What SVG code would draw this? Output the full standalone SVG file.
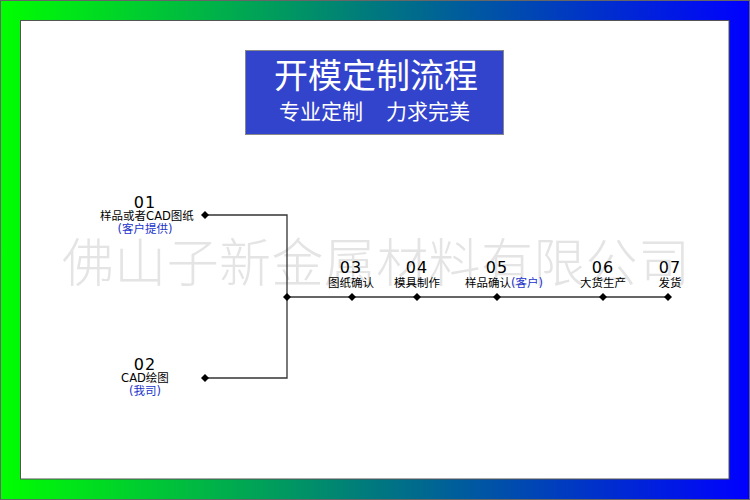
<svg xmlns="http://www.w3.org/2000/svg" width="750" height="500" viewBox="0 0 750 500">
<defs>
<linearGradient id="bg" x1="0" y1="0" x2="1" y2="0">
<stop offset="0" stop-color="#00ff00"/>
<stop offset="0.5" stop-color="#00787f"/>
<stop offset="1" stop-color="#0000ff"/>
</linearGradient>
<marker id="dia" viewBox="-5 -5 10 10" markerWidth="10" markerHeight="10" refX="0" refY="0" markerUnits="userSpaceOnUse">
<path d="M0,-4 L4,0 L0,4 L-4,0 Z" fill="#000"/>
</marker>
</defs>
<style>
.num{font-family:"DejaVu Sans","Noto Sans CJK SC",sans-serif;font-size:16px;fill:#000;text-anchor:middle;letter-spacing:1px}
.lbl{font-family:"DejaVu Sans","Noto Sans CJK SC",sans-serif;font-size:11.5px;fill:#000;text-anchor:middle}
.blue{fill:#2233cc}
.ln{stroke:#333;stroke-width:1.3;fill:none}
.ttl{font-family:"Noto Sans CJK SC",sans-serif;fill:#fff}
</style>
<rect x="0.5" y="0.5" width="749" height="499" fill="url(#bg)" stroke="#666" stroke-width="1"/>
<rect x="20.5" y="20.5" width="708.5" height="458.5" fill="#fff" stroke="#555" stroke-width="1"/>
<text x="376" y="282" font-family="'Noto Sans CJK SC',sans-serif" font-weight="300" font-size="52" fill="#e4e4e4" text-anchor="middle" textLength="628" lengthAdjust="spacing">佛山子新金属材料有限公司</text>
<g id="title">
<rect x="245.5" y="50.5" width="258" height="84" fill="#3344cc" stroke="#888" stroke-width="1"/>
<text class="ttl" x="376" y="88" font-size="34" text-anchor="middle">开模定制流程</text>
<text class="ttl" x="279" y="119" font-size="21">专业定制</text>
<text class="ttl" x="470" y="119" font-size="21" text-anchor="end">力求完美</text>
</g>
<g id="connectors">
<polyline class="ln" points="205,215 287,215 287,378 205,378" marker-start="url(#dia)" marker-end="url(#dia)"/>
<polyline class="ln" points="287,297 352,297 417,297 497,297 603,297 668,297" marker-start="url(#dia)" marker-mid="url(#dia)" marker-end="url(#dia)"/>
</g>
<g id="n01">
<text class="num" x="145" y="208">01</text>
<text class="lbl" x="147" y="220">样品或者CAD图纸</text>
<text class="lbl blue" x="145" y="233">(客户提供)</text>
</g>
<g id="n02">
<text class="num" x="145" y="370">02</text>
<text class="lbl" x="145" y="382">CAD绘图</text>
<text class="lbl blue" x="145" y="395">(我司)</text>
</g>
<g id="n03">
<text class="num" x="351" y="273">03</text>
<text class="lbl" x="351" y="287">图纸确认</text>
</g>
<g id="n04">
<text class="num" x="417" y="273">04</text>
<text class="lbl" x="417" y="287">模具制作</text>
</g>
<g id="n05">
<text class="num" x="497" y="273">05</text>
<text class="lbl" x="504" y="287">样品确认<tspan class="blue">(客户)</tspan></text>
</g>
<g id="n06">
<text class="num" x="603" y="273">06</text>
<text class="lbl" x="603" y="287">大货生产</text>
</g>
<g id="n07">
<text class="num" x="670" y="273">07</text>
<text class="lbl" x="670" y="287">发货</text>
</g>
</svg>
